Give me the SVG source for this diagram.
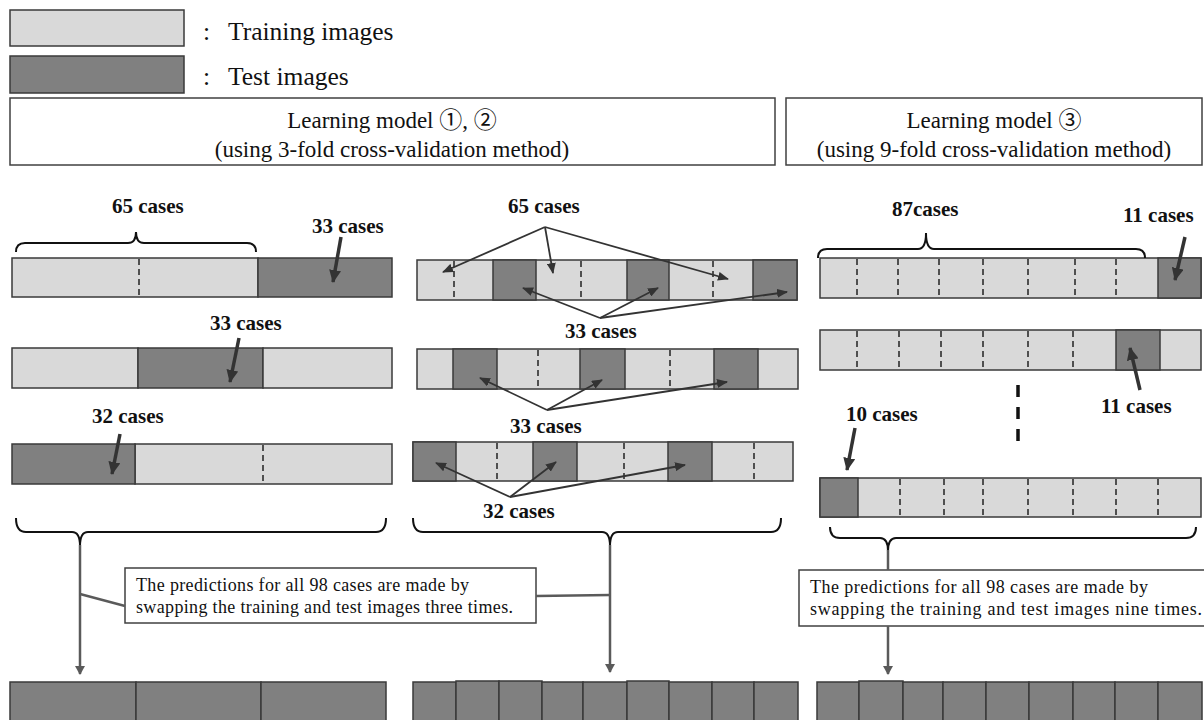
<svg xmlns="http://www.w3.org/2000/svg" width="1204" height="720" viewBox="0 0 1204 720">
<style>
text{font-family:"Liberation Serif","Noto Sans CJK JP",serif;fill:#111}
.lg{font-size:25.5px}
.hd{font-size:23px}
.lb{font-size:21px;font-weight:bold}
.nt{font-size:18px}
.tr{fill:#d9d9d9;stroke:#3a3a3a;stroke-width:1.5}
.te{fill:#808080;stroke:#3a3a3a;stroke-width:1.5}
.box{fill:#fff;stroke:#404040;stroke-width:1.5}
.ds{stroke:#222;stroke-width:1.5;stroke-dasharray:6 4;fill:none}
.br{fill:none;stroke:#111;stroke-width:2}
.thk{stroke:#333;stroke-width:3.5;fill:none;marker-end:url(#big)}
.thn{stroke:#333;stroke-width:1.8;fill:none;marker-end:url(#small)}
.gl{stroke:#5a5a5a;stroke-width:2.5;fill:none}
.ga{stroke:#5a5a5a;stroke-width:2.5;fill:none;marker-end:url(#gray)}
</style>
<defs>
<marker id="big" markerUnits="userSpaceOnUse" markerWidth="14" markerHeight="12" refX="12" refY="6" orient="auto"><path d="M0,0 L13,6 L0,12 z" fill="#333"/></marker>
<marker id="small" markerUnits="userSpaceOnUse" markerWidth="11" markerHeight="9" refX="10" refY="4.5" orient="auto"><path d="M0,0 L11,4.5 L0,9 z" fill="#333"/></marker>
<marker id="gray" markerUnits="userSpaceOnUse" markerWidth="10" markerHeight="10" refX="8" refY="5" orient="auto"><path d="M0,0 L9,5 L0,10 z" fill="#5a5a5a"/></marker>
</defs>
<rect width="1204" height="720" fill="#fff"/>

<g id="legend">
<rect class="tr" x="10" y="10" width="174" height="36"/>
<text class="lg" x="203" y="40">:</text>
<text class="lg" x="228" y="40">Training images</text>
<rect class="te" x="10" y="56" width="174" height="37"/>
<text class="lg" x="203" y="85">:</text>
<text class="lg" x="228" y="85">Test images</text>
</g>

<g id="header12">
<rect class="box" x="10" y="98" width="765" height="67"/>
<text class="hd" x="392" y="128" text-anchor="middle" font-size="24">Learning model ①, ②</text>
<text class="hd" x="392" y="157" text-anchor="middle">(using 3-fold cross-validation method)</text>
</g>
<g id="header3">
<rect class="box" x="786" y="98" width="416" height="67"/>
<text class="hd" x="994" y="128" text-anchor="middle" font-size="24">Learning model ③</text>
<text class="hd" x="994" y="157" text-anchor="middle">(using 9-fold cross-validation method)</text>
</g>

<g id="left-fold1">
<rect class="tr" x="12" y="258" width="246" height="39"/>
<rect class="te" x="258" y="258" width="134" height="39"/>
<line class="ds" x1="139" y1="259" x2="139" y2="296"/>
<text class="lb" x="112" y="213">65 cases</text>
<text class="lb" x="312" y="233">33 cases</text>
</g>
<g id="left-fold2">
<rect class="tr" x="12" y="348" width="126" height="40"/>
<rect class="te" x="138" y="348" width="125" height="40"/>
<rect class="tr" x="263" y="348" width="129" height="40"/>
<text class="lb" x="210" y="330">33 cases</text>
</g>
<g id="left-fold3">
<rect class="tr" x="135" y="444" width="257" height="40"/>
<rect class="te" x="12" y="444" width="123" height="40"/>
<line class="ds" x1="263" y1="445" x2="263" y2="483"/>
<text class="lb" x="92" y="423">32 cases</text>
</g>

<g id="mid-fold1">
<rect class="tr" x="417" y="260" width="380" height="40"/>
<rect class="te" x="493" y="260" width="43" height="40"/>
<rect class="te" x="627" y="260" width="42" height="40"/>
<rect class="te" x="753" y="260" width="44" height="40"/>
<line class="ds" x1="454" y1="261" x2="454" y2="299"/>
<line class="ds" x1="581" y1="261" x2="581" y2="299"/>
<line class="ds" x1="713" y1="261" x2="713" y2="299"/>
<text class="lb" x="508" y="213">65 cases</text>
<text class="lb" x="565" y="338">33 cases</text>
</g>
<g id="mid-fold2">
<rect class="tr" x="417" y="349" width="381" height="40"/>
<rect class="te" x="453" y="349" width="44" height="40"/>
<rect class="te" x="580" y="349" width="45" height="40"/>
<rect class="te" x="714" y="349" width="44" height="40"/>
<line class="ds" x1="538" y1="350" x2="538" y2="388"/>
<line class="ds" x1="670" y1="350" x2="670" y2="388"/>
<text class="lb" x="510" y="433">33 cases</text>
</g>
<g id="mid-fold3">
<rect class="tr" x="413" y="442" width="380" height="39"/>
<rect class="te" x="413" y="442" width="43" height="39"/>
<rect class="te" x="533" y="442" width="44" height="39"/>
<rect class="te" x="668" y="442" width="44" height="39"/>
<line class="ds" x1="497" y1="443" x2="497" y2="480"/>
<line class="ds" x1="624" y1="443" x2="624" y2="480"/>
<line class="ds" x1="754" y1="443" x2="754" y2="480"/>
<text class="lb" x="483" y="518">32 cases</text>
</g>

<g id="right-fold1">
<rect class="tr" x="820" y="258" width="381" height="40"/>
<rect class="te" x="1158" y="258" width="43" height="40"/>
<path class="ds" d="M857,259V297M898,259V297M939,259V297M983,259V297M1028,259V297M1075,259V297M1116,259V297"/>
<text class="lb" x="892" y="216">87cases</text>
<text class="lb" x="1123" y="222">11 cases</text>
</g>
<g id="right-fold2">
<rect class="tr" x="820" y="330" width="381" height="40"/>
<rect class="te" x="1116" y="330" width="44" height="40"/>
<path class="ds" d="M857,331V369M899,331V369M941,331V369M983,331V369M1028,331V369M1073,331V369"/>
<text class="lb" x="1101" y="413">11 cases</text>
</g>
<g id="right-ellipsis">
<line x1="1018" y1="385" x2="1018" y2="442" stroke="#111" stroke-width="3.5" stroke-dasharray="12 10"/>
</g>
<g id="right-fold9">
<rect class="tr" x="820" y="478" width="381" height="39"/>
<rect class="te" x="820" y="478" width="38" height="39" stroke="#222" stroke-width="2.2"/>
<path class="ds" d="M900,479V516M944,479V516M983,479V516M1028,479V516M1073,479V516M1116,479V516M1158,479V516"/>
<text class="lb" x="846" y="421">10 cases</text>
</g>

<g id="note-left">
<rect class="box" x="125" y="568" width="411" height="55" stroke-width="1.2"/>
<text class="nt" x="136" y="591" textLength="333">The predictions for all 98 cases are made by</text>
<text class="nt" x="136" y="613" textLength="377">swapping the training and test images three times.</text>
</g>
<g id="note-right">
<rect class="box" x="799" y="570" width="412" height="56" stroke-width="1.2"/>
<text class="nt" x="810" y="593" textLength="338">The predictions for all 98 cases are made by</text>
<text class="nt" x="810" y="615" textLength="392">swapping the training and test images nine times.</text>
</g>

<g id="result-left">
<rect class="te" x="10" y="682" width="126" height="45"/>
<rect class="te" x="136" y="682" width="125" height="45"/>
<rect class="te" x="261" y="682" width="125" height="45"/>
</g>
<g id="result-mid">
<rect class="te" x="413" y="682" width="43" height="45"/>
<rect class="te" x="456" y="681" width="43" height="46"/>
<rect class="te" x="499" y="681" width="43" height="46"/>
<rect class="te" x="542" y="682" width="41" height="45"/>
<rect class="te" x="583" y="682" width="44" height="45"/>
<rect class="te" x="627" y="681" width="42" height="46"/>
<rect class="te" x="669" y="682" width="43" height="45"/>
<rect class="te" x="712" y="682" width="42" height="45"/>
<rect class="te" x="754" y="682" width="44" height="45"/>
</g>
<g id="result-right">
<rect class="te" x="817" y="682" width="42" height="45"/>
<rect class="te" x="859" y="681" width="44" height="46"/>
<rect class="te" x="903" y="682" width="40" height="45"/>
<rect class="te" x="943" y="682" width="43" height="45"/>
<rect class="te" x="986" y="682" width="43" height="45"/>
<rect class="te" x="1029" y="682" width="44" height="45"/>
<rect class="te" x="1073" y="682" width="42" height="45"/>
<rect class="te" x="1115" y="682" width="43" height="45"/>
<rect class="te" x="1158" y="682" width="44" height="45"/>
</g>

<g id="connectors">
<path class="br" d="M16,252 Q16,243 25,243 L128,243 Q136,243 136,232 Q136,243 144,243 L247,243 Q256,243 256,252"/>
<path class="br" d="M818,258 Q818,249 827,249 L918,249 Q926,249 926,233 Q926,249 934,249 L1136,249 Q1145,249 1145,258"/>
<path class="br" d="M16,518 Q16,532 26,532 L72,532 Q80,532 80,546 Q80,532 88,532 L376,532 Q386,532 386,518"/>
<path class="br" d="M413,518 Q413,532 423,532 L602,532 Q610,532 610,546 Q610,532 618,532 L771,532 Q781,532 781,518"/>
<path class="br" d="M830,527 Q830,538 840,538 L880,538 Q888,538 888,551 Q888,538 896,538 L1186,538 Q1196,538 1196,527"/>
<line class="thk" x1="341" y1="237" x2="333" y2="282"/>
<line class="thk" x1="239" y1="338" x2="230" y2="382"/>
<line class="thk" x1="120" y1="434" x2="112" y2="474"/>
<line class="thk" x1="1185" y1="237" x2="1175" y2="280"/>
<line class="thk" x1="1140" y1="390" x2="1130" y2="348"/>
<line class="thk" x1="855" y1="428" x2="847" y2="470"/>
<path class="thn" d="M545,227 L443,272"/>
<path class="thn" d="M545,227 L553,273"/>
<path class="thn" d="M545,227 L728,279"/>
<path class="thn" d="M600,318 L523,288"/>
<path class="thn" d="M600,318 L658,288"/>
<path class="thn" d="M600,318 L787,292"/>
<path class="thn" d="M547,410 L480,378"/>
<path class="thn" d="M547,410 L602,380"/>
<path class="thn" d="M547,410 L727,382"/>
<path class="thn" d="M510,497 L436,463"/>
<path class="thn" d="M510,497 L556,462"/>
<path class="thn" d="M510,497 L685,465"/>
<line class="ga" x1="80" y1="545" x2="80" y2="674"/>
<line class="ga" x1="610" y1="545" x2="610" y2="672"/>
<line class="gl" x1="888" y1="550" x2="888" y2="570"/>
<line class="ga" x1="888" y1="626" x2="888" y2="674"/>
<line class="gl" x1="80" y1="594" x2="125" y2="606"/>
<line class="gl" x1="536" y1="596" x2="610" y2="595"/>
</g>
</svg>
